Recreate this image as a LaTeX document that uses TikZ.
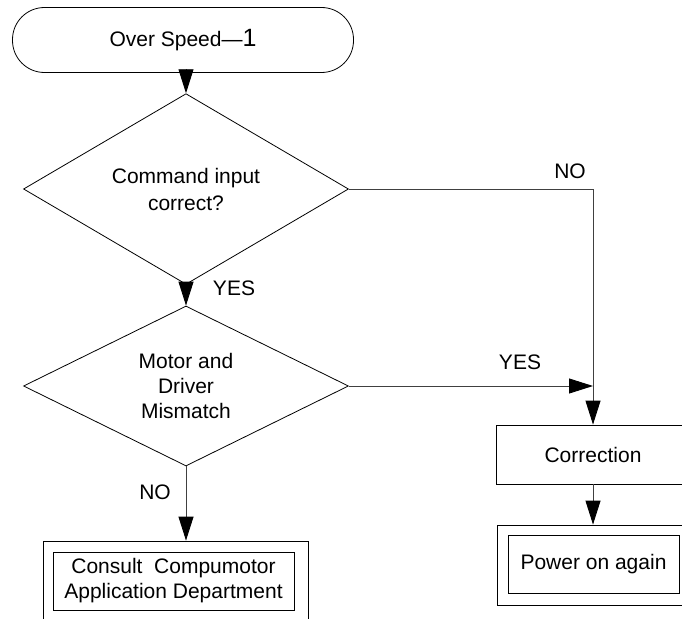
\documentclass[tikz,border=0pt]{standalone}
\usepackage{fontspec}
\setmainfont{Liberation Sans}
\usetikzlibrary{shapes.geometric,arrows.meta}
\tikzset{
  txt/.style={font=\fontsize{21}{25}\selectfont, align=center},
  term/.style={txt, draw, rounded corners=32pt, minimum width=341pt, minimum height=65pt},
  decision/.style={txt, draw, diamond, inner sep=0pt, minimum width=325pt, minimum height=143pt},
  proc/.style={txt, draw, minimum width=193pt, minimum height=59pt},
  flow/.style={draw=black!75, line width=0.9pt, -{Triangle[length=24pt,width=15pt,color=black]}},
  lbl/.style={txt}
}
\begin{document}
\begin{tikzpicture}[x=1pt,y=-1pt,line width=0.8pt]
  \useasboundingbox (0,0) rectangle (682,618);
  \clip (0,0) rectangle (682,618);
  % start
  \node[term] (start) at (183,40) {Over Speed---{\fontsize{25}{25}\selectfont 1}};
  % decisions
  \node[decision] (cmd) at (186,189) {Command input\\[2pt]correct?};
  \node[decision] (mis) at (186,386) {Motor and\\Driver\\Mismatch};
  % right column
  \node[proc] (corr) at (593,454.5) {Correction};
  \node[proc, minimum height=80pt] (powerout) at (593.5,565) {};
  \node[txt, draw, minimum width=171pt, minimum height=58pt] (power) at (593.5,564) {Power on again};
  % left box
  \node[draw, minimum width=265pt, minimum height=98pt] (consultout) at (175.5,590) {};
  \node[txt, draw, minimum width=241pt, minimum height=58pt] (consult) at (173.5,581)
    {Consult~~Compumotor\\Application Department};
  % connectors
  \draw[flow] (start.south -| cmd.north) -- (cmd.north);
  \draw[flow] (cmd.south) -- (mis.north);
  \draw[flow] (cmd.east) -| (corr.north);
  \draw[flow] (mis.east) -- (mis.east -| corr.north);
  \draw[flow] (mis.south) -- (mis.south |- consultout.north);
  \draw[flow] (corr.south) -- (corr.south |- powerout.north);
  % labels
  \node[lbl] (nocmd) at (570,171) {NO};
  \node[lbl] (yescmd) at (234,288) {YES};
  \node[lbl] (yesmis) at (520,362) {YES};
  \node[lbl] (nomis) at (155,492) {NO};
\end{tikzpicture}
\end{document}
